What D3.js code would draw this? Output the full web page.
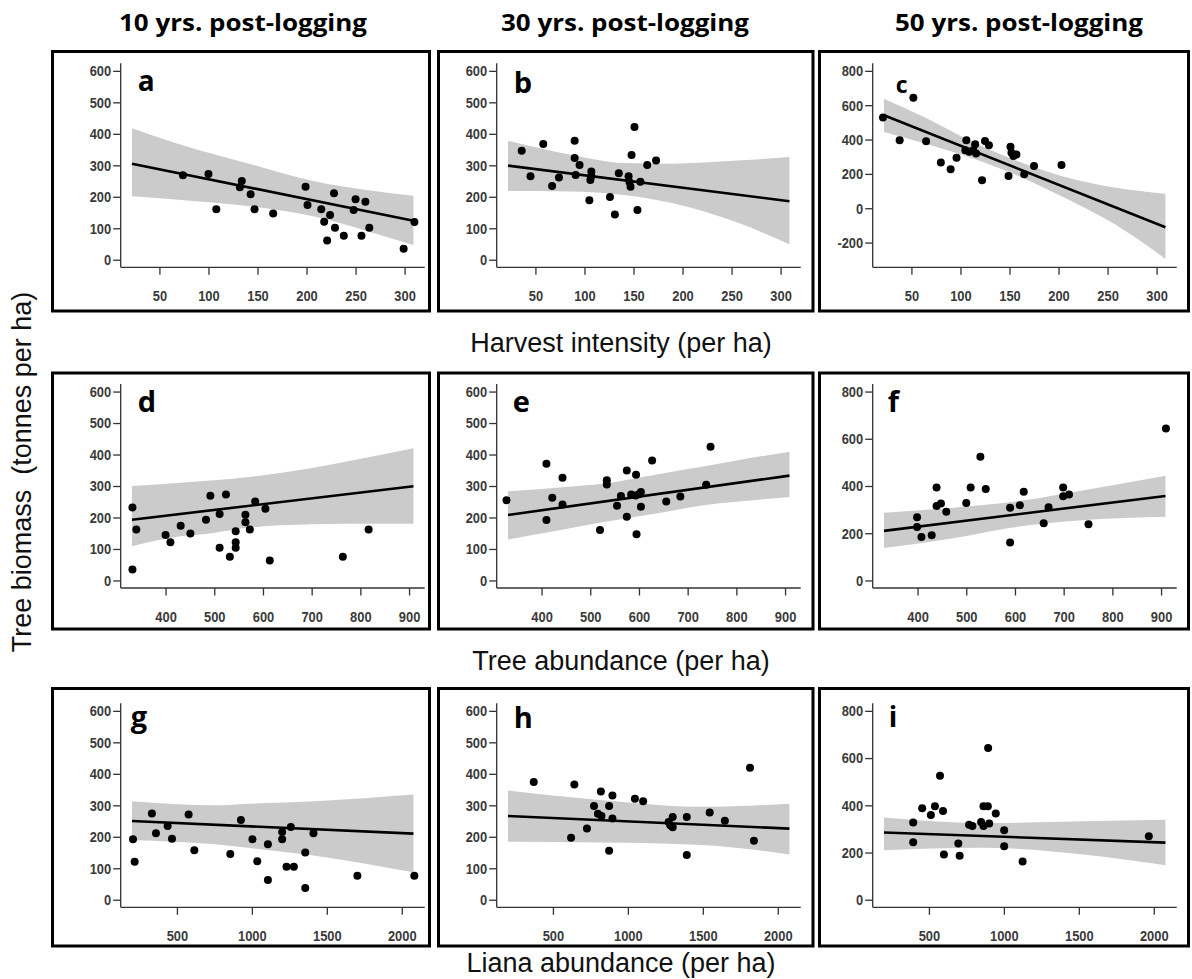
<!DOCTYPE html>
<html>
<head>
<meta charset="utf-8">
<script src="https://cdn.jsdelivr.net/npm/d3@7"></script>
<style>
  body { margin: 0; background: #ffffff; }
  svg { display: block; }
</style>
</head>
<body>
<svg id="fig" width="1192" height="979"></svg>
<script>
// ---------------------------------------------------------------
// Labels
// ---------------------------------------------------------------
const columnTitles = ["10 yrs. post-logging", "30 yrs. post-logging", "50 yrs. post-logging"];
const rowTitles = ["Harvest intensity (per ha)", "Tree abundance (per ha)", "Liana abundance (per ha)"];
const yTitle = "Tree biomass  (tonnes per ha)";
const panelLetters = ["a", "b", "c", "d", "e", "f", "g", "h", "i"];

// ---------------------------------------------------------------
// Axis ticks and limits
// ---------------------------------------------------------------
const xTicksRow = [
  [50, 100, 150, 200, 250, 300],
  [400, 500, 600, 700, 800, 900],
  [500, 1000, 1500, 2000]
];
const yTicks600 = [0, 100, 200, 300, 400, 500, 600];
const yTicks800 = [0, 200, 400, 600, 800];
const yTicksC = [-200, 0, 200, 400, 600, 800];
const yLim600 = [0, 600];
const yLim800 = [0, 800];
const yLimC = [-300, 800];

// predictor range covered by each row's fitted models
const fitRangeRow = [[22, 309], [331, 909], [200, 2078]];

// ---------------------------------------------------------------
// Observations: [predictor, tree biomass]
// ---------------------------------------------------------------
const ptsA = [[74,268],[100,272],[108,160],[132,230],[134,250],[143,208],[147,160],[166,147],[199,232],[201,174],[215,160],[218,121],[221,61],[224,142],[228,211],[229,102],[238,76],[248,158],[250,192],[256,76],[260,184],[264,102],[299,35],[310,120]];
const ptsB = [[36,346],[45,265],[58,368],[67,234],[74,261],[90,378],[90,323],[91,269],[95,301],[105,189],[106,253],[107,280],[107,265],[126,199],[131,144],[135,275],[145,265],[146,246],[147,232],[148,333],[151,422],[154,158],[157,248],[164,301],[173,315]];
const ptsC = [[21,529],[38,396],[52,644],[65,390],[80,267],[90,227],[96,294],[106,396],[105,338],[109,329],[113,338],[115,373],[116,319],[122,163],[125,392],[129,367],[149,188],[151,358],[152,323],[154,304],[157,313],[165,198],[175,246],[203,252]];
const ptsD = [[332,232],[332,35],[340,162],[400,144],[410,121],[431,174],[451,149],[483,193],[492,269],[511,104],[511,211],[524,273],[532,75],[544,156],[544,121],[544,104],[564,209],[564,185],[573,162],[584,251],[605,228],[614,63],[764,75],[817,162]];
const ptsE = [[328,255],[410,371],[410,192],[422,263],[443,326],[443,241],[520,160],[534,318],[534,305],[555,237],[563,268],[575,349],[575,202],[584,273],[593,270],[594,336],[595,147],[600,274],[604,281],[604,234],[627,381],[656,251],[685,267],[738,304],[747,425]];
const ptsF = [[399,268],[399,226],[408,184],[429,191],[439,394],[439,315],[448,326],[459,291],[500,328],[509,394],[529,524],[540,387],[590,308],[590,161],[610,319],[618,376],[659,242],[669,310],[699,394],[699,357],[711,364],[751,238],[910,644]];
const ptsG = [[207,192],[218,121],[333,274],[360,211],[438,234],[467,194],[578,271],[616,157],[856,145],[927,253],[1004,192],[1036,122],[1107,176],[1107,63],[1202,215],[1202,192],[1231,105],[1260,231],[1280,105],[1356,150],[1356,37],[1411,211],[1704,76],[2084,76]];
const ptsH = [[372,374],[621,197],[643,366],[727,226],[774,298],[800,273],[820,344],[824,266],[875,298],[875,156],[897,331],[897,258],[1047,321],[1102,313],[1272,247],[1283,237],[1299,263],[1299,230],[1393,263],[1393,142],[1546,277],[1647,251],[1815,419],[1841,187]];
const ptsI = [[395,327],[395,243],[455,387],[513,359],[540,396],[574,525],[594,376],[600,192],[696,238],[705,186],[768,318],[790,312],[848,329],[864,312],[864,396],[895,643],[893,396],[902,323],[946,365],[1002,294],[1002,227],[1125,162],[1967,269]];

// ---------------------------------------------------------------
// Fitted lines: predicted biomass at both ends of the fit range
// ---------------------------------------------------------------
const fitA = [305, 124];
const fitB = [299, 186];
const fitC = [541, -111];
const fitD = [193, 299];
const fitE = [208, 333];
const fitF = [210, 358];
const fitG = [250, 210];
const fitH = [266, 226];
const fitI = [285, 242];

// ---------------------------------------------------------------
// Confidence bands: predictor, lower and upper limits
// ---------------------------------------------------------------
const bandAx = [22, 72, 147, 208, 263, 309];
const bandAlo = [202, 190, 168, 137, 90, 47];
const bandAhi = [418, 365, 300, 249, 221, 203];

const bandBx = [22, 85, 140, 188, 256, 309];
const bandBlo = [218, 217, 206, 181, 118, 49];
const bandBhi = [378, 334, 307, 305, 315, 326];

const bandCx = [22, 65, 115, 156, 203, 257, 309];
const bandClo = [444, 375, 285, 195, 70, -92, -295];
const bandChi = [637, 525, 378, 280, 188, 120, 84];

const bandDx = [331, 431, 499, 567, 635, 772, 909];
const bandDlo = [109, 140, 151, 167, 175, 180, 180];
const bandDhi = [300, 310, 318, 328, 341, 378, 420];

const bandEx = [331, 456, 525, 594, 663, 732, 800, 909];
const bandElo = [130, 165, 185, 202, 220, 239, 250, 265];
const bandEhi = [283, 298, 307, 325, 344, 362, 381, 409];

const bandFx = [331, 473, 608, 744, 909];
const bandFlo = [137, 179, 228, 256, 270];
const bandFhi = [287, 308, 336, 383, 443];

const bandGx = [200, 756, 974, 1422, 2078];
const bandGlo = [189, 176, 165, 140, 87];
const bandGhi = [313, 300, 305, 313, 334];

const bandHx = [200, 831, 1493, 2078];
const bandHlo = [184, 182, 174, 144];
const bandHhi = [347, 316, 295, 305];

const bandIx = [200, 857, 1527, 2078];
const bandIlo = [210, 220, 192, 146];
const bandIhi = [348, 325, 332, 339];

// ---------------------------------------------------------------
// Panel table
// ---------------------------------------------------------------
const pts = [ptsA, ptsB, ptsC, ptsD, ptsE, ptsF, ptsG, ptsH, ptsI];
const fits = [fitA, fitB, fitC, fitD, fitE, fitF, fitG, fitH, fitI];
const bandX = [bandAx, bandBx, bandCx, bandDx, bandEx, bandFx, bandGx, bandHx, bandIx];
const bandLo = [bandAlo, bandBlo, bandClo, bandDlo, bandElo, bandFlo, bandGlo, bandHlo, bandIlo];
const bandHi = [bandAhi, bandBhi, bandChi, bandDhi, bandEhi, bandFhi, bandGhi, bandHhi, bandIhi];
const yLims = [yLim600, yLim600, yLimC, yLim600, yLim600, yLim800, yLim600, yLim600, yLim800];
const yTicksPanel = [yTicks600, yTicks600, yTicksC, yTicks600, yTicks600, yTicks800, yTicks600, yTicks600, yTicks800];

// ---------------------------------------------------------------
// Layout
// ---------------------------------------------------------------
const plotLeft = [120.7, 496.7, 872.7];
const plotTop = [63.3, 384, 703.3];
const plotW = 304, plotH = 204;
const boxCols = [[52.5, 429.5], [438.5, 813], [819.5, 1188.5]];
const boxRows = [[51.5, 311], [373, 629], [688.5, 946]];
const letterPos = [[17, 27.7, 28], [17, 30, 29], [23, 30, 23],
                   [17, 27.7, 29], [16, 27.7, 29], [15, 27.7, 29],
                   [10, 23.5, 29], [17, 25, 29], [16, 23.5, 28]];
const headerX = [243, 625, 1019];
const headerWidth = 248;
const rowTitleY = [352, 670, 972];

// extend a range by 4% on each side
const pad4 = r => { const d = (r[1] - r[0]) * 0.04; return [r[0] - d, r[1] + d]; };

const svg = d3.select("#fig");
svg.append("rect").attr("width", 1192).attr("height", 979).attr("fill", "#ffffff");

const tickFont = "'Liberation Sans', Arial, sans-serif";
const tickSqueeze = 0.86;   // slightly condensed tick numerals
const axisColor = "#333333";
const tickTextColor = "#3a3a3a";

panelLetters.forEach((letter, i) => {
  const row = Math.floor(i / 3), col = i % 3;
  const x0 = plotLeft[col], y0 = plotTop[row];
  const x = d3.scaleLinear().domain(pad4(fitRangeRow[row])).range([x0, x0 + plotW]);
  const y = d3.scaleLinear().domain(pad4(yLims[i])).range([y0 + plotH, y0]);

  // panel frame
  svg.append("rect")
    .attr("x", boxCols[col][0]).attr("y", boxRows[row][0])
    .attr("width", boxCols[col][1] - boxCols[col][0])
    .attr("height", boxRows[row][1] - boxRows[row][0])
    .attr("fill", "none").attr("stroke", "#000").attr("stroke-width", 3);

  const g = svg.append("g");
  const clipId = "clip" + i;
  g.append("clipPath").attr("id", clipId).append("rect")
    .attr("x", x0).attr("y", y0).attr("width", plotW).attr("height", plotH);

  // confidence band
  const band = bandX[i].map((bx, k) => ({ x: bx, lo: bandLo[i][k], hi: bandHi[i][k] }));
  g.append("path")
    .datum(band)
    .attr("clip-path", `url(#${clipId})`)
    .attr("fill", "#cbcbcb")
    .attr("d", d3.area().x(d => x(d.x)).y0(d => y(d.lo)).y1(d => y(d.hi)).curve(d3.curveMonotoneX));

  // fitted line
  const fit = fitRangeRow[row].map((fx, k) => ({ x: fx, y: fits[i][k] }));
  g.append("path")
    .datum(fit)
    .attr("clip-path", `url(#${clipId})`)
    .attr("fill", "none").attr("stroke", "#000").attr("stroke-width", 2.6)
    .attr("d", d3.line().x(d => x(d.x)).y(d => y(d.y)));

  // observations
  g.selectAll("circle.pt").data(pts[i]).enter().append("circle")
    .attr("class", "pt")
    .attr("cx", d => x(d[0])).attr("cy", d => y(d[1])).attr("r", 4)
    .attr("fill", "#000");

  // axes (L-shaped frame + outward ticks)
  const plain = d => String(d);
  const xAxis = d3.axisBottom(x).tickValues(xTicksRow[row]).tickFormat(plain)
    .tickSize(7.5).tickPadding(16).tickSizeOuter(0);
  const gx = g.append("g").attr("transform", `translate(0,${y0 + plotH})`).call(xAxis);
  const yAxis = d3.axisLeft(y).tickValues(yTicksPanel[i]).tickFormat(plain)
    .tickSize(7.5).tickPadding(2).tickSizeOuter(0);
  const gy = g.append("g").attr("transform", `translate(${x0},0)`).call(yAxis);

  [gx, gy].forEach(ax => {
    ax.select(".domain").remove();
    ax.selectAll(".tick line").attr("stroke", axisColor).attr("stroke-width", 1.3);
    ax.selectAll(".tick text")
      .attr("fill", tickTextColor)
      .attr("transform", `scale(${tickSqueeze},1)`)
      .style("font-family", tickFont)
      .style("font-size", "15px")
      .style("font-weight", "bold");
  });
  gy.selectAll(".tick text").attr("x", -9.5 / tickSqueeze);

  g.append("line")
    .attr("x1", x0).attr("x2", x0 + plotW)
    .attr("y1", y0 + plotH).attr("y2", y0 + plotH)
    .attr("stroke", axisColor).attr("stroke-width", 1.3);
  g.append("line")
    .attr("x1", x0).attr("x2", x0)
    .attr("y1", y0).attr("y2", y0 + plotH)
    .attr("stroke", axisColor).attr("stroke-width", 1.3);

  // panel letter
  g.append("text")
    .attr("x", x0 + letterPos[i][0]).attr("y", y0 + letterPos[i][1])
    .style("font-family", "'Open Sans', 'Noto Sans', sans-serif")
    .style("font-weight", "bold")
    .style("font-size", letterPos[i][2] + "px")
    .attr("fill", "#000")
    .text(letter);
});

// column headers
columnTitles.forEach((t, c) => {
  svg.append("text")
    .attr("x", headerX[c]).attr("y", 31)
    .attr("text-anchor", "middle")
    .attr("textLength", headerWidth)
    .attr("lengthAdjust", "spacingAndGlyphs")
    .style("font-family", "'Open Sans', 'Noto Sans', sans-serif")
    .style("font-weight", "bold")
    .style("font-size", "23px")
    .attr("fill", "#000")
    .text(t);
});

// row (x-axis) titles
rowTitles.forEach((t, r) => {
  svg.append("text")
    .attr("x", 621).attr("y", rowTitleY[r])
    .attr("text-anchor", "middle")
    .style("font-family", "'Liberation Sans', Arial, sans-serif")
    .style("font-size", "27px")
    .attr("fill", "#111")
    .text(t);
});

// shared y-axis title
svg.append("text")
  .attr("transform", "translate(31,472) rotate(-90)")
  .attr("text-anchor", "middle")
  .style("font-family", "'Liberation Sans', Arial, sans-serif")
  .style("font-size", "27px")
  .style("white-space", "pre")
  .attr("fill", "#111")
  .text(yTitle);
</script>
</body>
</html>
